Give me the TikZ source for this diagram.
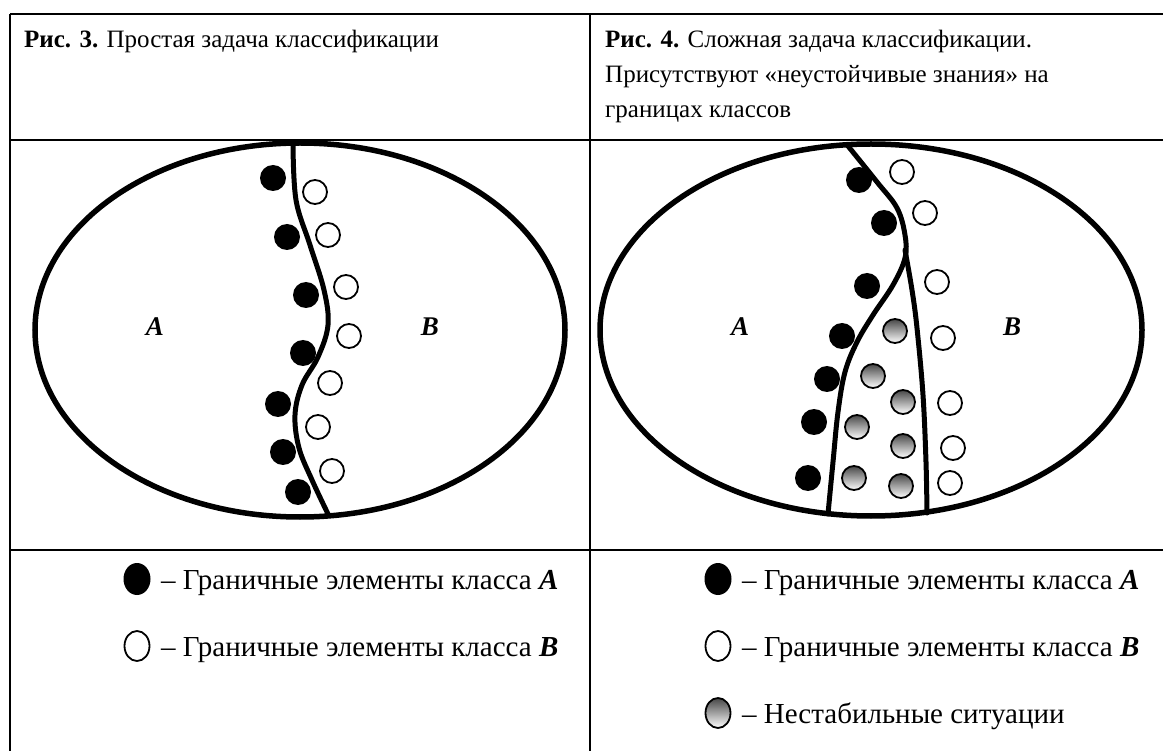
\documentclass[tikz,border=0pt]{standalone}
\usepackage{fontspec}
\setmainfont{Liberation Serif}
\usetikzlibrary{shapes.geometric}
\begin{document}
\begin{tikzpicture}[x=1pt,y=-1pt,
  tbl/.style={line width=2.5pt},
  oval/.style={ellipse, draw, line width=5.5pt, inner sep=0},
  bnd/.style={line width=5pt, line join=round, line cap=round},
  bdot/.style={circle, fill=black, minimum size=26pt, inner sep=0},
  wdot/.style={circle, draw=black, line width=1.8pt, fill=white, minimum size=24pt, inner sep=0},
  gdot/.style={circle, draw=black, line width=1.8pt, top color=black!72, bottom color=white, minimum size=24pt, inner sep=0},
  lbdot/.style={ellipse, fill=black, minimum width=27pt, minimum height=32pt, inner sep=0},
  lwdot/.style={ellipse, draw=black, line width=1.8pt, fill=white, minimum width=25pt, minimum height=30pt, inner sep=0},
  lgdot/.style={ellipse, draw=black, line width=1.8pt, top color=black!72, bottom color=white, minimum width=25pt, minimum height=30pt, inner sep=0},
  txt/.style={anchor=base west, inner sep=0, font=\fontsize{25}{30}\selectfont},
  ltxt/.style={anchor=base west, inner sep=0, font=\fontsize{29}{34}\selectfont},
  lab/.style={inner sep=0, font=\fontsize{27}{30}\selectfont\bfseries\itshape}]
\useasboundingbox (0,0) rectangle (1163,751);
\clip (0,0) rectangle (1163,751);
% table
\coordinate (tl) at (10,14);
\coordinate (tr) at (1175,14);
\coordinate (ml) at (10,140);
\coordinate (mr) at (1175,140);
\coordinate (ll) at (10,550);
\coordinate (lr) at (1175,550);
\coordinate (bl) at (10,760);
\coordinate (dt) at (590,14);
\coordinate (db) at (590,760);
\draw[tbl] (tl) -- (tr) (ml) -- (mr) (ll) -- (lr) (tl) -- (bl) (dt) -- (db);
% headers
\node[txt] (h3) at (24,48) {\textbf{Рис. 3.} Простая задача классификации};
\node[txt] (h4a) at (605,48) {\textbf{Рис. 4.} Сложная задача классификации.};
\node[txt] (h4b) at (605,83) {Присутствуют «неустойчивые знания» на};
\node[txt] (h4c) at (605,118) {границах классов};
% left figure
\node[oval, minimum width=530pt, minimum height=374pt] (eL) at (300,330) {};
\draw[bnd] plot[smooth, tension=0.6] coordinates {(293,144) (296,200) (310,245) (324,290) (328,325) (318,357) (302,385) (295,415) (299,448) (312,480) (328,514)};
\node[lab] (aL) at (155,327) {A};
\node[lab] (bL) at (430,327) {B};
\foreach \n/\p in {1/{(273,178)},2/{(287,237)},3/{(306,295)},4/{(303,353)},5/{(278,404)},6/{(283,452)},7/{(298,492)}}
  \node[bdot] (la\n) at \p {};
\foreach \n/\p in {1/{(315,192)},2/{(328,235)},3/{(346,287)},4/{(349,336)},5/{(330,383)},6/{(318,427)},7/{(332,471)}}
  \node[wdot] (lb\n) at \p {};
% right figure
\node[oval, minimum width=542pt, minimum height=372pt] (eR) at (871,330) {};
\draw[bnd] plot[smooth, tension=0.6] coordinates {(848,146) (877,182) (897,208) (905,235) (905,258) (893,285) (873,315) (857,342) (845,372) (838,412) (833,462) (828,514)};
\draw[bnd] plot[smooth, tension=0.6] coordinates {(905,250) (912,290) (917,328) (923,395) (926,462) (927,513)};
\node[lab] (aR) at (740,327) {A};
\node[lab] (bR) at (1012,327) {B};
\foreach \n/\p in {1/{(859,180)},2/{(884,223)},3/{(867,286)},4/{(842,336)},5/{(827,379)},6/{(814,422)},7/{(808,478)}}
  \node[bdot] (ra\n) at \p {};
\foreach \n/\p in {1/{(902,172)},2/{(925,213)},3/{(937,282)},4/{(943,338)},5/{(950,403)},6/{(953,448)},7/{(950,483)}}
  \node[wdot] (rb\n) at \p {};
\foreach \n/\p in {1/{(895,331)},2/{(873,376)},3/{(903,402)},4/{(857,427)},5/{(903,446)},6/{(854,478)},7/{(901,486)}}
  \node[gdot] (rg\n) at \p {};
% legends
\node[lbdot] (kA) at (137,579) {};
\node[ltxt] (tA) at (161,589) {– Граничные элементы класса \textbf{\textit{A}}};
\node[lwdot] (kB) at (137,646) {};
\node[ltxt] (tB) at (161,656) {– Граничные элементы класса \textbf{\textit{B}}};
\node[lbdot] (kA2) at (718,579) {};
\node[ltxt] (tA2) at (742,589) {– Граничные элементы класса \textbf{\textit{A}}};
\node[lwdot] (kB2) at (718,646) {};
\node[ltxt] (tB2) at (742,656) {– Граничные элементы класса \textbf{\textit{B}}};
\node[lgdot] (kG) at (718,713) {};
\node[ltxt] (tG) at (742,723) {– Нестабильные ситуации};
\end{tikzpicture}
\end{document}
